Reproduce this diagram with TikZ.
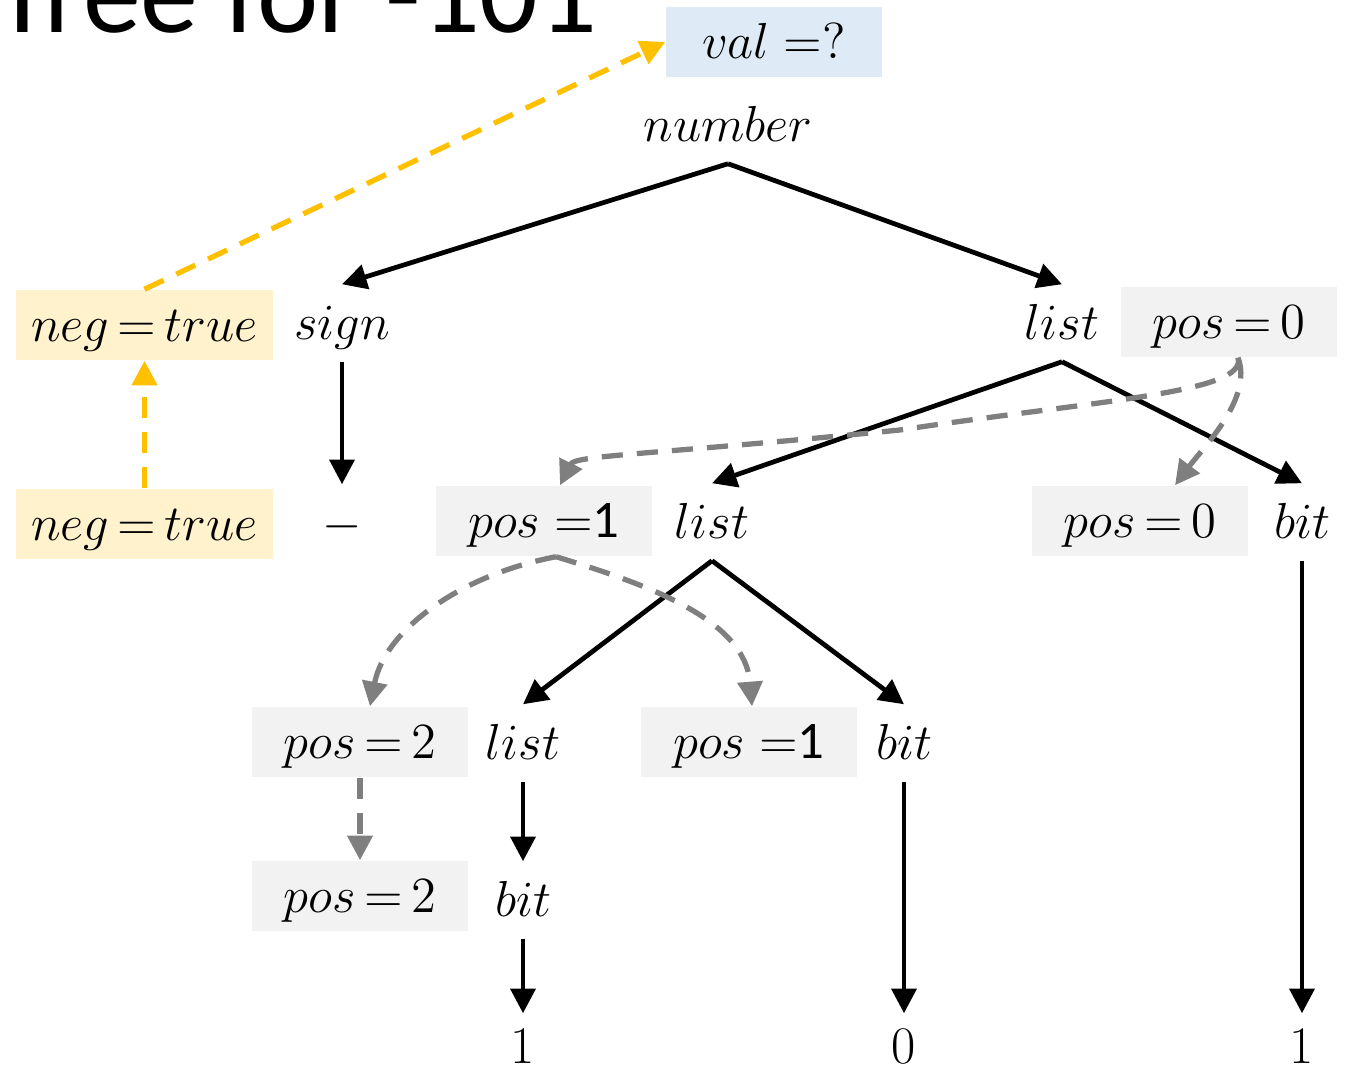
\documentclass[tikz,border=0pt]{standalone}
\usepackage{fontspec}
\usetikzlibrary{positioning}
\usetikzlibrary{arrows.meta}
\newfontfamily\titlefont{Carlito}
\definecolor{valblue}{HTML}{DEEBF7}
\definecolor{negyellow}{HTML}{FFF2CC}
\definecolor{posgray}{HTML}{F2F2F2}
\definecolor{flowyellow}{HTML}{FFC000}
\definecolor{flowgray}{HTML}{7F7F7F}

\begin{document}
\begin{tikzpicture}[x=0.01cm,y=-0.01cm,>={Triangle[length=7pt,width=7pt]},
                font=\fontsize{15}{18}\selectfont,
                tree node/.style={inner sep=0pt,text height=12pt,text depth=2.8pt,minimum height=0.76cm},
                attr box/.style={inner sep=0pt,text height=12pt,text depth=2.8pt,minimum height=0.7cm,
                  minimum width=2.16cm,execute at begin node={\thickmuskip=3mu}},
                pos box/.style={attr box,fill=posgray},
                neg box/.style={attr box,fill=negyellow,minimum width=2.57cm},
                edge/.style={->,line width=1.35pt},
                flow/.style={->,line width=1.5pt,dash pattern=on 6pt off 4pt}]

  \useasboundingbox (0,0) rectangle (1351,1067);

  \node[anchor=base west,inner sep=0pt,font=\titlefont\fontsize{33}{36}\selectfont] (title) at (-6,33) {Tree for -101};

  % parse tree
  \node[attr box,fill=valblue] (val) at (774,42) {$val\mkern5mu{=}?$};
  \node[tree node] (number) at (728,125) {$number$};
  \node[tree node] (sign) at (342,323) {$sign$};
  \node[tree node] (list1) at (1062,323) {$list$};
  \node[tree node] (minus) at (342,523) {$-$};
  \node[tree node] (list2) at (712,522) {$list$};
  \node[tree node] (bit1) at (1302,522) {$bit$};
  \node[tree node] (list3) at (523,743) {$list$};
  \node[tree node] (bit2) at (904,743) {$bit$};
  \node[tree node] (bit3) at (523,900) {$bit$};
  \node[tree node] (one1) at (523,1047) {1};
  \node[tree node] (zero) at (904,1047) {0};
  \node[tree node] (one2) at (1302,1047) {1};

  % attributes
  \node[neg box] (neg1) at (144.5,325) {$neg = true$};
  \node[neg box] (neg2) at (144.5,524) {$neg = true$};
  \node[pos box] (pos1) at (1229,322) {$pos = 0$};
  \node[pos box] (pos2) at (544,521) {$pos\mkern5mu{=}$\titlefont 1};
  \node[pos box] (pos3) at (1140,521) {$pos = 0$};
  \node[pos box] (pos4) at (360,742) {$pos = 2$};
  \node[pos box] (pos5) at (749,742) {$pos\mkern5mu{=}$\titlefont 1};
  \node[pos box] (pos6) at (360,896) {$pos = 2$};

  \path[edge]
    (number.south) edge (sign.north)
                   edge (list1.north)
    (sign.south)   edge (minus.north)
    (list1.south)  edge (list2.north)
                   edge (bit1.north)
    (list2.south)  edge (list3.north)
                   edge (bit2.north)
    (list3.south)  edge (bit3.north)
    (bit3.south)   edge ([yshift=-0.05cm]one1.north)
    (bit2.south)   edge ([yshift=-0.05cm]zero.north)
    (bit1.south)   edge ([yshift=-0.05cm]one2.north);

  % synthesized neg
  \draw[flow,flowyellow] (neg2.north) -- (neg1.south);
  \draw[flow,flowyellow] (neg1.north) -- (val.west);

  % inherited pos
  \draw[flow,flowgray] ([xshift=0.09cm]pos1.south) .. controls +(10,35) and (1100,400) .. (900,430)
                       .. controls (650,455) and (575,455) .. ([xshift=0.16cm]pos2.north);
  \draw[flow,flowgray] ([xshift=0.09cm]pos1.south) .. controls +(15,40) and +(30,-40) .. ([xshift=0.35cm]pos3.north);
  \draw[flow,flowgray] ([xshift=0.12cm]pos2.south) .. controls (460,575) and (385,630) .. ([xshift=0.1cm]pos4.north);
  \draw[flow,flowgray] ([xshift=0.12cm]pos2.south) .. controls (650,585) and (745,620) .. ([xshift=0.03cm]pos5.north);
  \draw[flow,flowgray] (pos4.south) -- (pos6.north);
\end{tikzpicture}
\end{document}
